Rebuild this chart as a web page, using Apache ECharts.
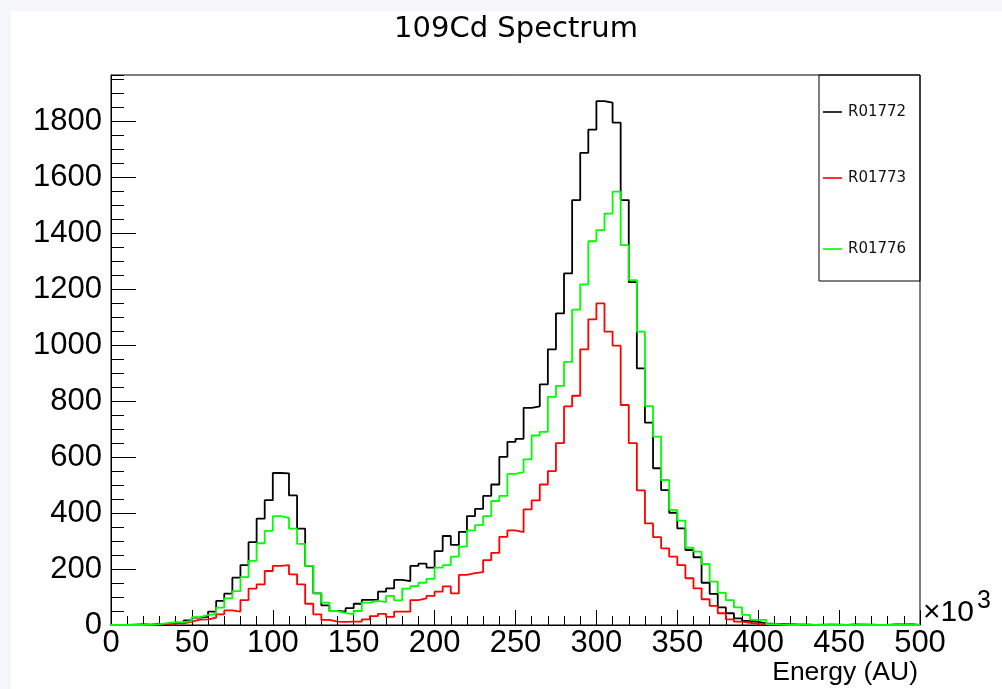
<!DOCTYPE html>
<html>
<head>
<meta charset="utf-8">
<title>109Cd Spectrum</title>
<script src="https://cdn.jsdelivr.net/npm/echarts@6/dist/echarts.min.js"></script>
<style>
  html, body { margin: 0; padding: 0; background: #f5f6fa; width: 1002px; height: 689px; overflow: hidden; }
  #chart { position: absolute; left: 11px; top: 11px; width: 991px; height: 678px; background: #ffffff; }
</style>
</head>
<body>
<div id="chart"></div>
<script>
// Histogram binning: 100 bins of 5 (x10^3 AU) from 0 to 500
const BIN_WIDTH = 5;
const X_MIN = 0;
const X_MAX = 500;
const Y_MAX = 1965;

const RUN_NAMES = ['R01772', 'R01773', 'R01776'];
const RUN_COLORS = ['#000000', '#ff0000', '#00ff00'];

// Counts per bin, run R01772
const R01772 = [
  0, 0, 1, 2, 1, 4, 5, 8, 7, 16,
  26, 29, 48, 86, 112, 169, 214, 296, 380, 446,
  543, 542, 463, 344, 211, 113, 70, 50, 48, 60,
  76, 90, 91, 119, 131, 161, 157, 211, 219, 205,
  264, 318, 286, 333, 389, 415, 461, 502, 601, 654,
  665, 776, 781, 860, 985, 1113, 1256, 1518, 1687, 1770,
  1872, 1866, 1795, 1518, 1225, 917, 723, 560, 482, 401,
  345, 268, 242, 151, 111, 63, 42, 24, 15, 11,
  6, 4, 3, 2, 1, 1, 0, 1, 0, 1,
  0, 2, 0, 1, 0, 0, 2, 1, 2, 0
];

// Counts per bin, run R01773
const R01773 = [
  0, 0, 0, 1, 0, 2, 4, 5, 6, 12,
  19, 20, 26, 38, 52, 48, 89, 130, 145, 193,
  211, 214, 181, 145, 76, 38, 18, 12, 11, 12,
  12, 20, 32, 40, 29, 48, 48, 89, 95, 104,
  119, 138, 113, 179, 185, 189, 232, 258, 315, 338,
  332, 413, 445, 502, 550, 650, 781, 819, 985, 1092,
  1149, 1048, 998, 786, 650, 481, 363, 314, 274, 244,
  214, 167, 131, 92, 68, 42, 20, 12, 8, 4,
  2, 1, 1, 2, 1, 1, 0, 0, 2, 0,
  0, 0, 2, 0, 0, 0, 0, 2, 1, 0
];

// Counts per bin, run R01776
const R01776 = [
  0, 0, 0, 0, 1, 3, 7, 10, 10, 15,
  28, 35, 40, 62, 95, 121, 171, 229, 292, 336,
  389, 383, 344, 290, 211, 113, 80, 50, 43, 38,
  50, 80, 86, 82, 104, 88, 130, 139, 151, 165,
  205, 214, 244, 280, 338, 357, 389, 443, 461, 540,
  546, 592, 677, 690, 815, 854, 940, 1127, 1217, 1371,
  1411, 1470, 1548, 1357, 1232, 1048, 782, 673, 518, 411,
  373, 276, 262, 218, 155, 115, 89, 63, 36, 18,
  18, 3, 1, 0, 0, 1, 0, 0, 0, 0,
  0, 0, 0, 0, 0, 0, 0, 0, 0, 0
];

const RUN_COUNTS = [R01772, R01773, R01776];

// Step outline: one point at each bin's low edge, plus the closing edge
function toSteps(values) {
  const pts = values.map((v, i) => [X_MIN + i * BIN_WIDTH, v]);
  pts.push([X_MIN + values.length * BIN_WIDTH, values[values.length - 1]]);
  return pts;
}

const GRID = { left: 100, top: 64, width: 809, height: 550 };
const LABEL_FONT = 'Liberation Sans, Arial, sans-serif';
const TEXT_FONT = 'DejaVu Sans, sans-serif';
const LEGEND_CENTERS = [101, 167, 238];
const plainNumber = (v) => String(v);

const chart = echarts.init(document.getElementById('chart'), null, { renderer: 'canvas' });

const series = RUN_NAMES.map((name, k) => ({
  type: 'line',
  name: name,
  data: toSteps(RUN_COUNTS[k]),
  step: 'end',
  symbol: 'none',
  xAxisIndex: 0,
  yAxisIndex: 0,
  color: RUN_COLORS[k],
  lineStyle: { color: RUN_COLORS[k], width: 1.8 },
  z: 3 + k,
  clip: true,
  silent: true
}));

const legends = RUN_NAMES.map((name, k) => ({
  data: [name],
  orient: 'vertical',
  left: 812,
  top: LEGEND_CENTERS[k] - 8,
  padding: 0,
  icon: 'rect',
  itemWidth: 19,
  itemHeight: 1.6,
  itemGap: 0,
  selectedMode: false,
  textStyle: { fontFamily: TEXT_FONT, fontSize: 15, lineHeight: 16, color: '#111', padding: [0, 0, 0, 1] }
}));

chart.setOption({
  animation: false,
  backgroundColor: '#ffffff',
  grid: [
    Object.assign({ show: true, borderColor: '#000', borderWidth: 1, backgroundColor: 'transparent', z: 1 }, GRID),
    Object.assign({ show: false }, GRID)
  ],
  legend: legends,
  xAxis: [
    {
      type: 'value', gridIndex: 0, min: X_MIN, max: X_MAX, interval: 50, position: 'bottom',
      axisLine: { show: true, onZero: false, lineStyle: { color: '#000', width: 1 } },
      axisTick: { show: true, inside: true, length: 15, lineStyle: { color: '#000', width: 1 } },
      axisLabel: { margin: 3, fontSize: 31, fontFamily: LABEL_FONT, color: '#000', formatter: plainNumber },
      splitLine: { show: false }
    },
    {
      type: 'value', gridIndex: 1, min: X_MIN, max: X_MAX, interval: 10, position: 'bottom',
      axisLine: { show: false },
      axisTick: { show: true, inside: true, length: 9, lineStyle: { color: '#000', width: 1 } },
      axisLabel: { show: false },
      splitLine: { show: false }
    }
  ],
  yAxis: [
    {
      type: 'value', gridIndex: 0, min: 0, max: Y_MAX, interval: 200, position: 'left',
      axisLine: { show: true, onZero: false, lineStyle: { color: '#000', width: 1 } },
      axisTick: { show: true, inside: true, length: 25, lineStyle: { color: '#000', width: 1 } },
      axisLabel: { margin: 9, fontSize: 31, fontFamily: LABEL_FONT, color: '#000', showMaxLabel: false, formatter: plainNumber },
      splitLine: { show: false }
    },
    {
      type: 'value', gridIndex: 1, min: 0, max: Y_MAX, interval: 50, position: 'left',
      axisLine: { show: false },
      axisTick: { show: true, inside: true, length: 13, lineStyle: { color: '#000', width: 1 } },
      axisLabel: { show: false },
      splitLine: { show: false }
    }
  ],
  series: series,
  graphic: [
    {
      type: 'text', x: 505, y: 18, z: 10,
      style: { text: '109Cd Spectrum', fontFamily: TEXT_FONT, fontSize: 29, fill: '#000', align: 'center', verticalAlign: 'middle' }
    },
    {
      type: 'rect', z: 10, silent: true,
      shape: { x: 808, y: 64, width: 101, height: 206 },
      style: { fill: null, stroke: '#000', lineWidth: 1 }
    },
    {
      type: 'text', x: 907, y: 661.5, z: 10,
      style: { text: 'Energy (AU)', fontFamily: LABEL_FONT, fontSize: 26.5, fill: '#000', align: 'right', verticalAlign: 'middle' }
    },
    {
      type: 'text', x: 912, y: 602, z: 10,
      style: { text: '\u00d710', fontFamily: LABEL_FONT, fontSize: 30, fill: '#000', align: 'left', verticalAlign: 'middle' }
    },
    {
      type: 'text', x: 966, y: 590, z: 10,
      style: { text: '3', fontFamily: LABEL_FONT, fontSize: 25, fill: '#000', align: 'left', verticalAlign: 'middle' }
    }
  ]
});
</script>
</body>
</html>
